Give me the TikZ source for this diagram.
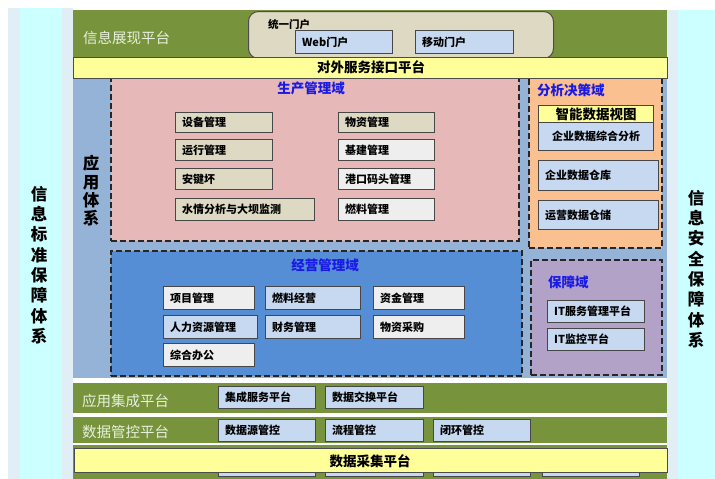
\documentclass[tikz,border=0pt]{standalone}
\usepackage{fontspec}
\setmainfont{Noto Sans CJK SC}
\definecolor{cgreen}{HTML}{77933C}
\definecolor{cyellow}{HTML}{FFFF99}
\definecolor{capp}{HTML}{95B3D7}
\definecolor{cpink}{HTML}{E6B9B8}
\definecolor{corange}{HTML}{FAC090}
\definecolor{cpurple}{HTML}{B3A2C7}
\definecolor{cdomblue}{HTML}{558ED5}
\definecolor{clb}{HTML}{C6D9F1}
\definecolor{cbeige}{HTML}{DDD9C3}
\definecolor{cgrey}{HTML}{EEEEEE}
\definecolor{ccyan}{HTML}{CCFFFF}
\definecolor{cpale}{HTML}{E2EEF6}
\definecolor{ctitle}{HTML}{1A1AE6}
\definecolor{cband}{HTML}{E8F0DC}
\newcommand\mybox[7]{%
  \node[bx, fill=#6, minimum width=#4pt, minimum height=#5pt] (#1) at (#2,#3) {};
  \node[bt] (#1-t) at ([xshift=7pt]#1.west) {#7};}
\begin{document}
\begin{tikzpicture}[x=1pt,y=-1pt,
  bx/.style={draw=black!72, line width=1.3pt, rectangle, inner sep=0pt, anchor=north west},
  dom/.style={draw=black!85, line width=1.8pt, dash pattern=on 6pt off 3pt, rectangle, inner sep=0pt, anchor=north west},
  area/.style={rectangle, inner sep=0pt, anchor=north west},
  bt/.style={font=\bfseries\fontsize{11}{13}\selectfont, anchor=west, inner sep=0pt},
  ttl/.style={font=\bfseries\fontsize{13.5}{15}\selectfont, text=ctitle, inner sep=0pt},
  bandlbl/.style={font=\fontsize{14.5}{16}\selectfont, text=cband, anchor=west, inner sep=0pt},
  ylbl/.style={font=\bfseries\fontsize{13.5}{15}\selectfont, inner sep=0pt},
  vert/.style={font=\bfseries\fontsize{16.5}{20.3}\selectfont, align=center, inner sep=0pt}]
\useasboundingbox (0,0) rectangle (715,479);
\fill[white] (0,0) rectangle (715,479);
% side pillars
\node[area, fill=cpale, minimum width=65pt, minimum height=471pt] (lpale) at (8,8) {};
\node[area, fill=ccyan, minimum width=42pt, minimum height=471pt] (lpil) at (20,8) {};
\node[area, fill=cpale, minimum width=48pt, minimum height=469pt] (rpale) at (667,10) {};
\node[area, fill=ccyan, minimum width=37pt, minimum height=469pt] (rpil) at (678,10) {};
\node[vert] (ltxt) at (39,265) {信\\息\\标\\准\\保\\障\\体\\系};
\node[vert] (rtxt) at (696,269) {信\\息\\安\\全\\保\\障\\体\\系};
% top band
\node[area, fill=cgreen, minimum width=594pt, minimum height=48pt] (top) at (73,10) {};
\node[bandlbl] (toplbl) at (83,38) {信息展现平台};
\node[draw=black!70, line width=1pt, fill=cbeige, rounded corners=10pt, minimum width=305pt, minimum height=47pt, inner sep=0pt, anchor=north west] (portal) at (248,11) {};
\node[font=\bfseries\fontsize{10.5}{12}\selectfont, anchor=west, inner sep=0pt] (portaltxt) at (268,24) {统一门户};
\mybox{web}{295}{30}{97}{23}{clb}{Web门户}
\mybox{mob}{415}{30}{98}{23}{clb}{移动门户}
% application area
\node[area, fill=capp, minimum width=594pt, minimum height=301pt] (app) at (73,77) {};
\node[vert, font=\bfseries\fontsize{16.5}{18.3}\selectfont] (apptxt) at (91,191) {应\\用\\体\\系};
% production domain
\node[dom, fill=cpink, minimum width=408pt, minimum height=165pt] (prod) at (110,75) {};
\node[ttl] (prodt) at (311,88) {生产管理域};
\mybox{p1}{175}{112}{97}{20}{cbeige}{设备管理}
\mybox{p2}{175}{139}{97}{21}{cbeige}{运行管理}
\mybox{p3}{175}{168}{97}{21}{cbeige}{安键坏}
\mybox{p4}{175}{198}{139}{22}{cbeige}{水情分析与大坝监测}
\mybox{p5}{338}{112}{96}{20}{cbeige}{物资管理}
\mybox{p6}{338}{139}{96}{21}{cgrey}{基建管理}
\mybox{p7}{338}{168}{96}{21}{cgrey}{港口码头管理}
\mybox{p8}{338}{198}{96}{22}{cgrey}{燃料管理}
% analysis domain
\node[dom, fill=corange, minimum width=133pt, minimum height=172pt] (ana) at (528,75) {};
\node[ttl, anchor=west] (anat) at (537,90) {分析决策域};
\node[bx, fill=clb, minimum width=115pt, minimum height=45pt] (a1) at (538,105) {};
\node[bx, fill=cyellow, minimum width=115pt, minimum height=17pt] (a1h) at (538,105) {};
\node[font=\bfseries\fontsize{13.5}{15}\selectfont, inner sep=0pt] (a1ht) at (a1h.center) {智能数据视图};
\node[bt, anchor=center] (a1t) at (596,136) {企业数据综合分析};
\mybox{a2}{538}{160}{120}{30}{clb}{企业数据仓库}
\mybox{a3}{538}{200}{120}{29}{clb}{运营数据仓储}
% business domain
\node[dom, fill=cdomblue, minimum width=411pt, minimum height=125pt] (biz) at (110,250) {};
\node[ttl] (bizt) at (325,265) {经营管理域};
\mybox{b1}{163}{286}{91}{23}{cgrey}{项目管理}
\mybox{b2}{265}{286}{95}{23}{clb}{燃料经营}
\mybox{b3}{373}{286}{91}{23}{cgrey}{资金管理}
\mybox{b4}{163}{315}{94}{23}{clb}{人力资源管理}
\mybox{b5}{265}{315}{95}{23}{clb}{财务管理}
\mybox{b6}{373}{315}{91}{23}{cgrey}{物资采购}
\mybox{b7}{163}{343}{91}{23}{cgrey}{综合办公}
% guarantee domain
\node[dom, fill=cpurple, minimum width=131pt, minimum height=115pt] (sec) at (530,259) {};
\node[ttl, anchor=west] (sect) at (548,282) {保障域};
\mybox{s1}{547}{300}{97}{22}{clb}{IT服务管理平台}
\mybox{s2}{547}{328}{97}{22}{clb}{IT监控平台}
% service interface band
\node[area, draw=black!70, line width=0.8pt, fill=cyellow, minimum width=594pt, minimum height=21pt] (svc) at (73,57) {};
\node[ylbl] (svct) at (371,67.5) {对外服务接口平台};
% integration band
\node[area, fill=cgreen, minimum width=594pt, minimum height=30pt] (integ) at (73,383) {};
\node[bandlbl] (integl) at (82,401) {应用集成平台};
\mybox{i1}{218}{386}{97}{22}{clb}{集成服务平台}
\mybox{i2}{325}{386}{98}{22}{clb}{数据交换平台}
% data control band
\node[area, fill=cgreen, minimum width=594pt, minimum height=26pt] (ctrl) at (73,417) {};
\node[bandlbl] (ctrll) at (82,432) {数据管控平台};
\mybox{c1}{218}{419}{97}{22}{clb}{数据源管控}
\mybox{c2}{325}{419}{98}{22}{clb}{流程管控}
\mybox{c3}{433}{419}{97}{22}{clb}{闭环管控}
% bottom band with hidden row
\node[area, fill=cgreen, minimum width=594pt, minimum height=34pt] (bot) at (73,445) {};
\node[bx, fill=clb, minimum width=97pt, minimum height=24pt] (h1) at (218,452) {};
\node[bx, fill=clb, minimum width=98pt, minimum height=24pt] (h2) at (325,452) {};
\node[bx, fill=clb, minimum width=97pt, minimum height=24pt] (h3) at (433,452) {};
\node[bx, fill=clb, minimum width=97pt, minimum height=24pt] (h4) at (542,452) {};
\node[area, draw=black!70, line width=0.8pt, fill=cyellow, minimum width=593pt, minimum height=24pt] (acq) at (74,448) {};
\node[ylbl] (acqt) at (370,461) {数据采集平台};
\end{tikzpicture}
\end{document}
